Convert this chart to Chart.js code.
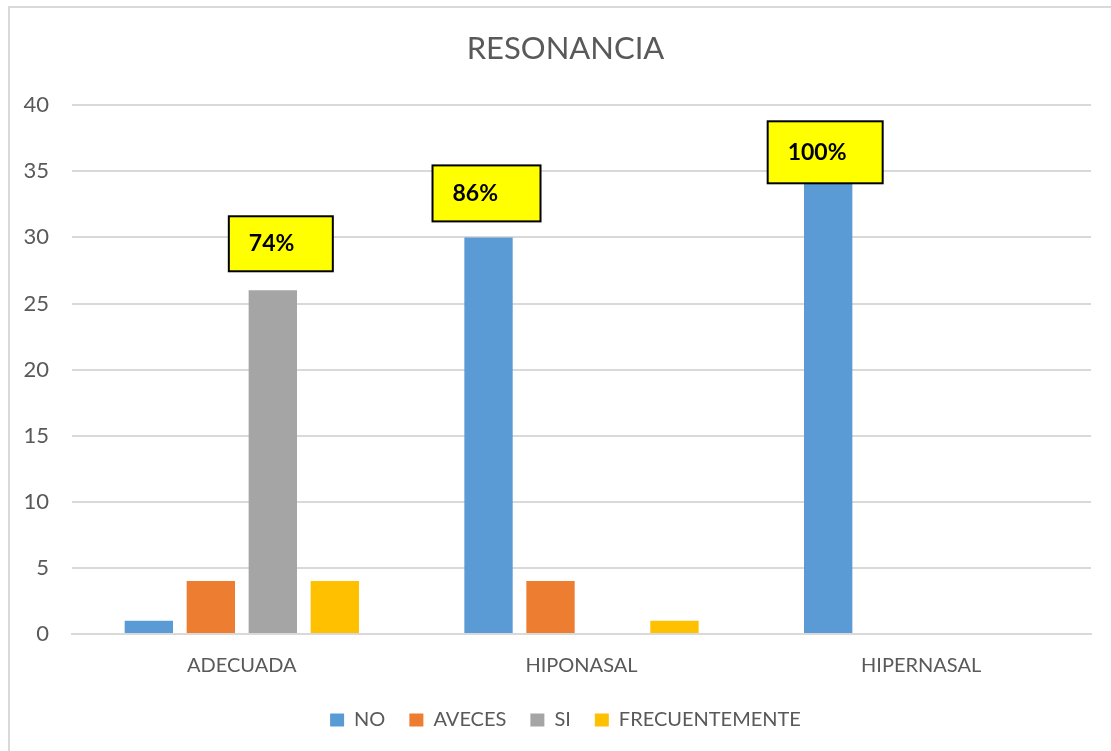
<!DOCTYPE html>
<html>
<head>
<meta charset="utf-8">
<script src="https://cdn.jsdelivr.net/npm/chart.js@4.4.1/dist/chart.umd.min.js"></script>
<style>
  html, body { margin: 0; padding: 0; background: #fff; overflow: hidden; }
  #frame { position: absolute; left: 8px; top: 6px; width: 1200px; height: 900px; border-left: 2px solid #d9d9d9; border-top: 2px solid #d9d9d9; }
  #wrap { position: absolute; left: 0; top: 0; width: 1111px; height: 751px; }
</style>
</head>
<body>
<div id="frame"></div>
<div id="wrap"><canvas id="c-resonancia"></canvas></div>
<script>
const categories = ["ADECUADA", "HIPONASAL", "HIPERNASAL"];
const seriesNames = ["NO", "AVECES", "SI", "FRECUENTEMENTE"];
const noValues = [1, 30, 35];
const avecesValues = [4, 4, 0];
const siValues = [26, 0, 0];
const frecuenteValues = [4, 1, 0];
const seriesColors = ["#5b9bd5", "#ed7d31", "#a5a5a5", "#ffc000"];

// yellow callouts, tied to a bar (dataset, index)
const callouts = [
  { dataset: 2, index: 0, text: "74%", w: 104, h: 55, dx: 8, dy: -19 },
  { dataset: 0, index: 1, text: "86%", w: 108, h: 56, dx: -2, dy: -16 },
  { dataset: 0, index: 2, text: "100%", w: 115, h: 62, dx: -3, dy: 12 }
];

const textColor = "#595959";
const fontFamily = "Lato, 'Open Sans', sans-serif";

const calloutPlugin = {
  id: "callouts",
  afterLayout(chart) {
    // title and legend are centred on the whole frame, not the plot
    chart.titleBlock.left = 40;
    chart.legend.left = 40;
  },
  afterDatasetsDraw(chart) {
    const ctx = chart.ctx;
    callouts.forEach((c) => {
      const bar = chart.getDatasetMeta(c.dataset).data[c.index];
      const left = bar.x + c.dx - c.w / 2;
      const top = bar.y + c.dy - c.h;
      ctx.save();
      ctx.fillStyle = "#ffff00";
      ctx.fillRect(left, top, c.w, c.h);
      ctx.lineWidth = 2;
      ctx.strokeStyle = "#000";
      ctx.strokeRect(left, top, c.w, c.h);
      ctx.fillStyle = "#000";
      ctx.font = "bold 23px " + fontFamily;
      ctx.textBaseline = "middle";
      ctx.textAlign = "left";
      ctx.fillText(c.text, left + 20, top + c.h / 2);
      ctx.restore();
    });
  }
};

const values = [noValues, avecesValues, siValues, frecuenteValues];

new Chart(document.getElementById("c-resonancia"), {
  type: "bar",
  data: {
    labels: categories,
    datasets: seriesNames.map((name, i) => ({
      label: name,
      data: values[i],
      backgroundColor: seriesColors[i],
      categoryPercentage: 0.73,
      barPercentage: 0.78
    }))
  },
  plugins: [calloutPlugin],
  options: {
    responsive: true,
    maintainAspectRatio: false,
    animation: false,
    layout: { padding: { left: 0, right: 20, top: 0, bottom: 11 } },
    plugins: {
      title: {
        display: true,
        text: "RESONANCIA",
        color: textColor,
        font: { family: fontFamily, size: 31, weight: "normal" },
        padding: { top: 30, bottom: 38 }
      },
      legend: {
        position: "bottom",
        labels: {
          color: textColor,
          font: { family: fontFamily, size: 20 },
          boxWidth: 14,
          boxHeight: 13,
          padding: 24
        }
      },
      tooltip: { enabled: false }
    },
    scales: {
      x: {
        afterFit: (scale) => { scale.height = 52; },
        grid: { display: false, drawTicks: false },
        border: { color: "#d9d9d9", width: 2 },
        ticks: { color: textColor, font: { family: fontFamily, size: 20 }, padding: 20 }
      },
      y: {
        min: 0,
        max: 40,
        afterFit: (scale) => { scale.width = 72; },
        grid: { color: "#d9d9d9", lineWidth: 2, drawTicks: false },
        border: { display: false },
        ticks: { stepSize: 5, color: textColor, font: { family: fontFamily, size: 22 }, padding: 23 }
      }
    }
  }
});
</script>
</body>
</html>
